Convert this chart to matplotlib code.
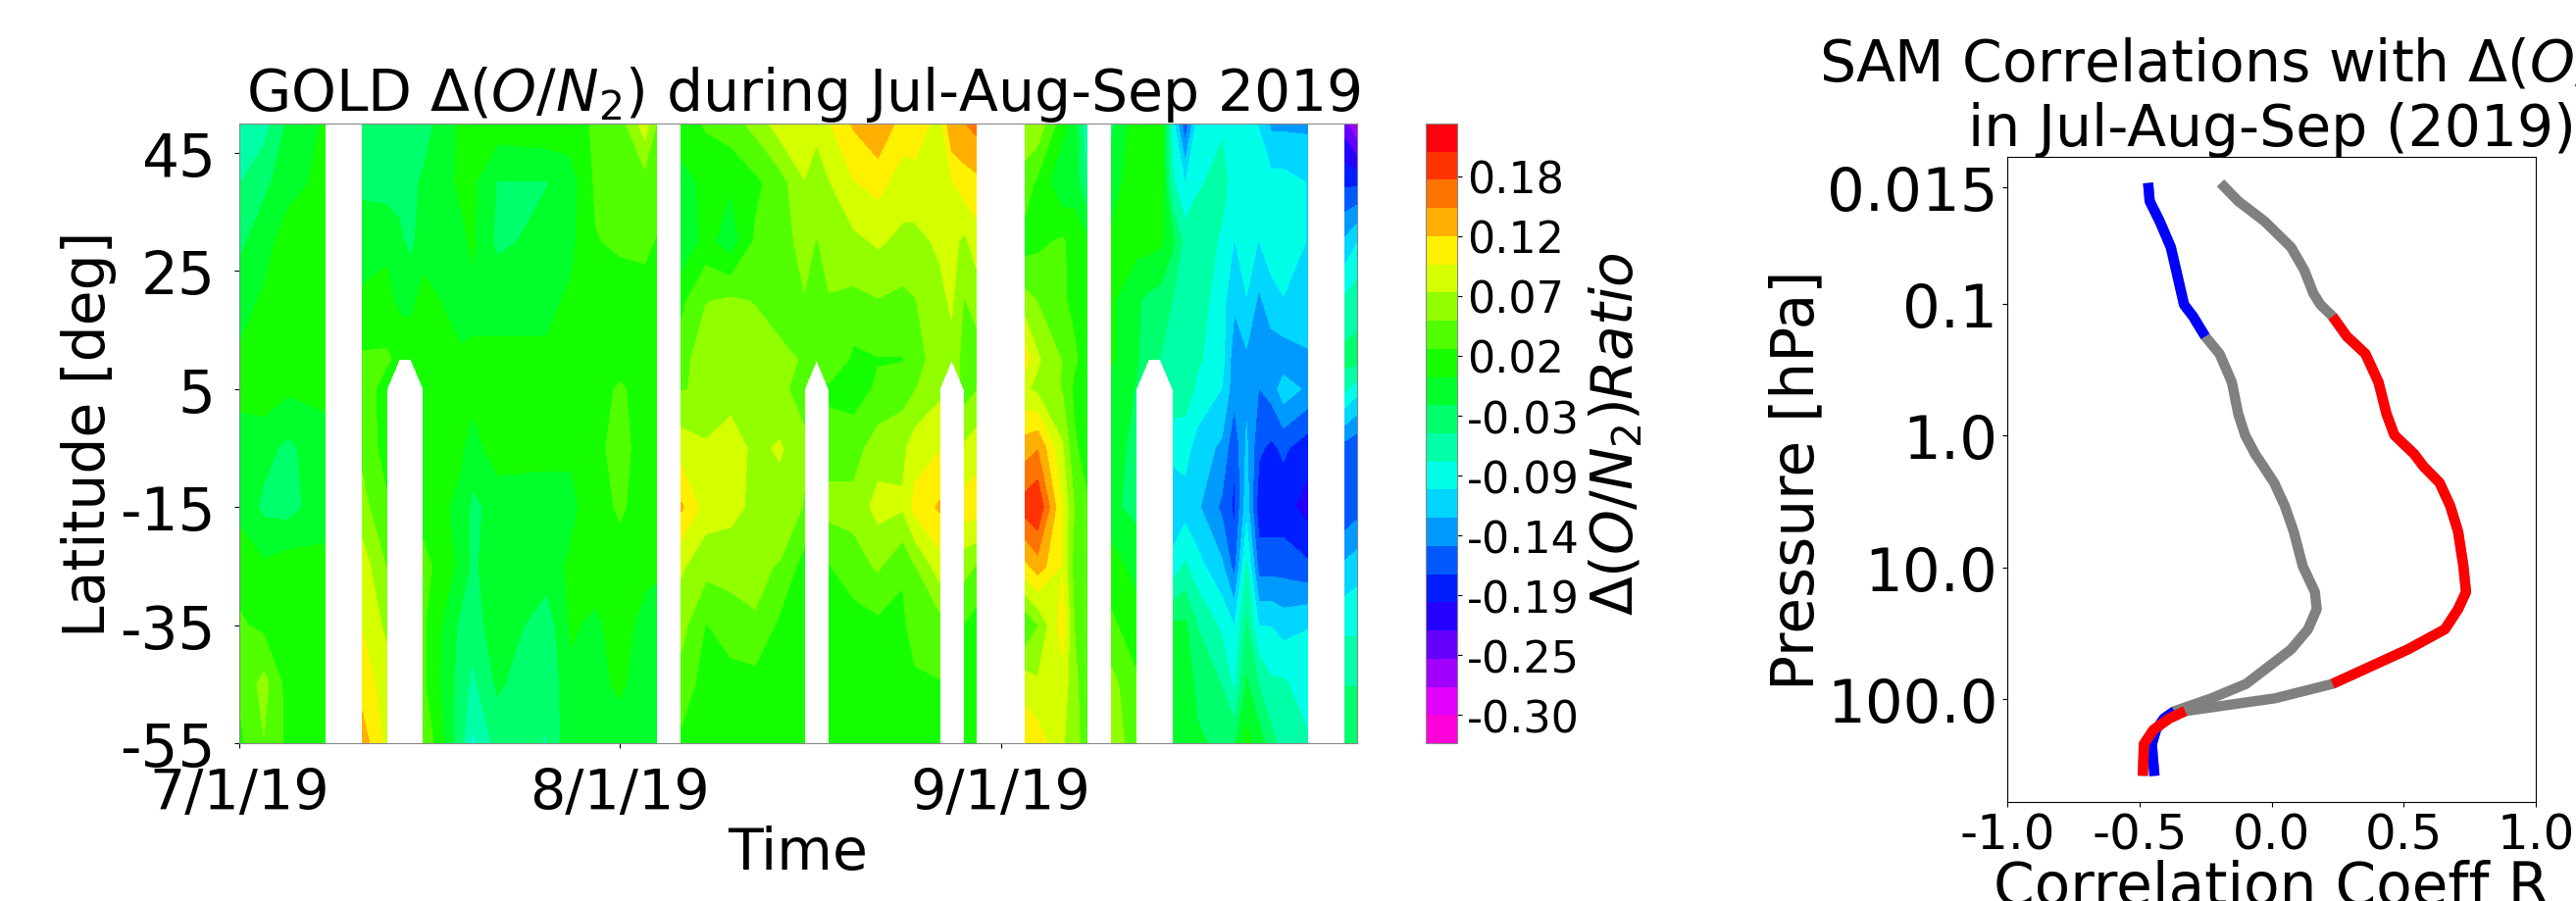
import numpy as np
import matplotlib
matplotlib.use('Agg')
import matplotlib.pyplot as plt

plt.rcParams['axes.unicode_minus'] = False

W, H = 2627, 920
nan = np.nan

# latitudes of each profile below, north to south
lats = [50, 40, 30, 20, 10, 5, -5, -15, -25, -35, -45, -55]

# days since 7/1/19 and the delta(O/N2) profile read at each of them
days = [0, 2, 4, 7, 8, 10, 12, 13, 14, 15, 18, 19, 21, 25, 27, 29, 31, 33, 34, 35,
        36, 38, 40, 42, 44, 46, 47, 48, 50, 52, 54, 55, 57, 58, 59, 60, 62,
        64, 65, 67, 68, 69, 70, 71, 73, 74, 75, 76, 77, 78, 80, 81, 82, 83, 84, 85, 87, 88, 90, 91]
profiles = [
    [-.06, -.05, -.03, -.01, .005, .005, -.005, -.005, .015, .03, .03, .02],
    [-.06, -.03, -.01, .005, .015, .015, -.015, -.03, .005, .02, .06, .05],
    [-.02, -.01, .015, .015, .005, .005, -.03, -.035, .015, .005, .015, .02],
    [.005, .01, .005, .01, .005, .005, -.005, -.005, .005, .005, .005, .01],
    [nan] * 12,
    [-.04, -.03, -.01, .005, .03, .04, .045, .06, .09, .10, .115, .14],
    [-.04, -.035, -.005, .01, .03, .015, .015, .03, .05, .07, .09, .095],
    [-.03, -.03, -.02, -.005, .02, nan, nan, nan, nan, nan, nan, nan],
    [-.03, -.03, -.03, -.005, .015, nan, nan, nan, nan, nan, nan, nan],
    [-.035, -.02, -.01, .01, .015, .015, .005, .015, .035, .03, .03, .05],
    [.005, .005, -.005, -.01, .005, .005, .005, -.005, -.005, -.03, -.035, -.04],
    [.005, .005, .005, -.005, .005, .01, -.01, -.03, -.03, -.04, -.055, -.08],
    [.015, -.025, -.03, -.005, .005, .005, .015, -.015, -.005, -.005, -.02, -.04],
    [.02, -.025, -.015, -.005, .005, .005, .005, -.005, -.01, -.04, -.045, -.05],
    [.015, -.01, -.005, .005, .01, .01, .005, -.005, .005, .005, -.005, -.005],
    [.03, .03, .025, .015, .015, .015, .02, .015, .015, -.005, -.005, -.005],
    [.04, .035, .03, .015, .015, .03, .035, .03, .015, .015, .005, -.01],
    [.09, .04, .03, .02, .015, .015, .015, .015, .01, -.01, -.01, -.01],
    [.05, .035, .025, .005, .005, .005, .01, .005, .005, -.01, -.01, -.005],
    [nan] * 12,
    [.01, -.005, -.02, .02, .04, .05, .09, .13, .08, .06, .04, .02],
    [.03, .005, .01, .05, .07, .055, .08, .09, .06, .025, .015, .005],
    [.04, .005, -.015, .055, .07, .065, .09, .085, .06, .04, .015, .005],
    [.06, .02, .03, .05, .065, .065, .07, .07, .055, .05, .015, .005],
    [.09, .04, .04, .045, .055, .055, .08, .065, .05, .02, .015, .005],
    [.10, .075, .06, .05, .05, .045, .055, .05, .015, .015, .01, .01],
    [.08, .07, .05, .05, .05, nan, nan, nan, nan, nan, nan, nan],
    [.10, .075, .06, .05, .05, .02, .04, .06, .025, .015, .01, .01],
    [.13, .10, .07, .045, .02, .015, .04, .06, .04, .015, .005, .005],
    [.15, .11, .08, .05, .025, .03, .065, .085, .055, .02, .01, .005],
    [.115, .09, .07, .045, .025, .04, .07, .08, .03, .02, .01, .005],
    [.12, .09, .07, .05, .04, .05, .09, .11, .05, .04, .02, .01],
    [.09, .09, .08, .07, .065, .07, .10, .13, .09, .04, .025, .015],
    [.15, .10, .085, .08, .07, nan, nan, nan, nan, nan, nan, nan],
    [.15, .115, .07, .05, .04, .04, .08, .115, .06, .025, .015, .005],
    [.16, .12, .09, .06, .04, .05, .09, .115, .05, .015, .005, .005],
    [nan] * 12,
    [.07, .04, .015, .06, .115, .08, .14, .19, .12, .03, .09, .12],
    [.07, .02, .02, .05, .08, .07, .15, .20, .14, .05, .08, .115],
    [.01, -.02, .03, .03, .05, .05, .08, .10, .10, .115, .09, .08],
    [-.01, -.01, .015, .02, .03, .02, .03, .05, .04, .05, .06, .06],
    [-.07, -.05, .005, .01, .015, .015, .015, .03, .03, .03, .03, .04],
    [nan] * 12,
    [-.03, -.01, .005, .005, .005, -.01, -.015, -.02, .015, .03, .06, .07],
    [.015, .015, .01, -.02, -.02, -.025, -.03, -.03, -.01, .015, .03, .035],
    [.015, .015, .01, -.03, -.04, nan, nan, nan, nan, nan, nan, nan],
    [.015, .015, .005, -.035, -.05, nan, nan, nan, nan, nan, nan, nan],
    [-.09, -.07, -.02, -.05, -.05, -.06, -.09, -.12, -.09, -.02, -.015, -.015],
    [-.17, -.10, -.06, -.05, -.06, -.06, -.09, -.11, -.07, -.02, -.01, -.015],
    [-.09, -.08, -.05, -.06, -.07, -.08, -.11, -.12, -.09, -.05, -.03, -.02],
    [-.08, -.06, -.08, -.09, -.09, -.10, -.13, -.155, -.12, -.08, -.05, -.03],
    [-.085, -.09, -.10, -.12, -.14, -.14, -.17, -.18, -.16, -.10, -.08, -.03],
    [-.09, -.08, -.09, -.10, -.13, -.13, -.12, -.11, -.07, -.045, -.02, .01],
    [-.10, -.09, -.10, -.13, -.14, -.15, -.17, -.19, -.16, -.10, -.05, -.01],
    [-.13, -.09, -.085, -.11, -.14, -.14, -.18, -.19, -.16, -.10, -.07, -.04],
    [-.13, -.09, -.09, -.10, -.14, -.11, -.17, -.19, -.16, -.11, -.07, -.06],
    [-.13, -.10, -.10, -.10, -.13, -.13, -.19, -.21, -.17, -.10, -.09, -.07],
    [nan] * 12,
    [-.24, -.18, -.12, -.07, -.04, -.07, -.16, -.17, -.12, -.08, -.05, -.03],
    [-.28, -.18, -.10, -.06, -.04, -.09, -.17, -.16, -.11, -.08, -.05, -.03],
]
date_ticks = [0, 31, 62]
date_labels = ['7/1/19', '8/1/19', '9/1/19']
lat_ticks = [45, 25, 5, -15, -35, -55]
cbar_ticks = [0.18, 0.1267, 0.0733, 0.02, -0.0333, -0.0867, -0.14, -0.1933, -0.2467, -0.30]
cbar_labels = ['0.18', '0.12', '0.07', '0.02', '-0.03', '-0.09', '-0.14', '-0.19', '-0.25', '-0.30']

# SAM correlation profiles
pressure = [0.012, 0.0165, 0.0235, 0.037, 0.0552, 0.0826, 0.101, 0.124, 0.176, 0.238,
            0.393, 0.682, 0.99, 1.38, 1.72, 2.28, 3.41, 5.36, 9.79, 15.4,
            20.8, 29.6, 42.1, 76.9, 99.0, 124.0, 141.0, 172.0, 221.0, 385.0]
corr_blue = [-.467, -.461, -.423, -.381, -.361, -.341, -.331, -.297, -.251, -.197,
             -.150, -.126, -.100, -.062, -.030, .010, .050, .084, .118, .164,
             .171, .138, .074, -.096, -.227, -.367, -.407, -.437, -.453, -.443]
corr_red = [-.193, -.126, -.026, .074, .124, .158, .185, .231, .285, .355,
            .405, .435, .465, .540, .576, .636, .676, .706, .726, .736,
            .706, .656, .516, .231, .014, -.327, -.387, -.447, -.483, -.487]
sig_level = 0.23
p_ticks = [0.0129, 0.1, 1.0, 10.0, 100.0]
p_labels = ['0.015', '0.1', '1.0', '10.0', '100.0']
r_ticks = [-1.0, -0.5, 0.0, 0.5, 1.0]


def px_axes(fig, x0, y0, x1, y1):
    return fig.add_axes([x0 / W, 1 - y1 / H, (x1 - x0) / W, (y1 - y0) / H])


fig = plt.figure(figsize=(W / 100, H / 100), dpi=100)

ax = px_axes(fig, 244, 127, 1384, 759)
levels = np.linspace(-0.325, 0.227, 23)
grid = np.ma.masked_invalid(np.array(profiles).T)
cf = ax.contourf(days, lats, grid, levels=levels, cmap='gist_rainbow_r', extend='neither')
ax.set_xlim(0, 91)
ax.set_ylim(-55, 50)
ax.set_xticks(date_ticks)
ax.set_xticklabels(date_labels, fontsize=41)
ax.set_yticks(lat_ticks)
ax.tick_params(axis='y', labelsize=43, pad=14)
ax.tick_params(axis='x', pad=14)
ax.set_xlabel('Time', fontsize=42, labelpad=3)
ax.set_ylabel('Latitude [deg]', fontsize=42, labelpad=2)
ax.set_title(r'GOLD $\Delta(O/N_2)$ during Jul-Aug-Sep 2019', fontsize=42, pad=1, x=0.505)
for s in ax.spines.values():
    s.set_color('#888888')

cax = px_axes(fig, 1454, 127, 1486, 759)
cb = fig.colorbar(cf, cax=cax, ticks=cbar_ticks)
cb.ax.set_yticklabels(cbar_labels, fontsize=32)
cb.set_label(r'$\Delta(O/N_2) Ratio$', fontsize=42, labelpad=6)
cb.outline.set_edgecolor('#888888')

ax2 = px_axes(fig, 2047, 161, 2586, 819)
p = np.array(pressure)
for corr, col in [(corr_blue, 'blue'), (corr_red, 'red')]:
    r = np.array(corr)
    ax2.plot(r, p, color='gray', lw=7.5, solid_capstyle='butt')
    ax2.plot(r, np.ma.masked_where(np.abs(r) < sig_level, p), color=col, lw=7.5,
             solid_capstyle='butt')
ax2.set_yscale('log')
ax2.set_xlim(-1, 1)
ax2.set_ylim(608, 0.0076)
ax2.set_xticks(r_ticks)
ax2.set_xticklabels(['-1.0', '-0.5', '0.0', '0.5', '1.0'], fontsize=36)
ax2.set_yticks(p_ticks)
ax2.set_yticklabels(p_labels, fontsize=44)
ax2.tick_params(axis='y', pad=3.5)
ax2.minorticks_off()
ax2.set_xlabel('Correlation Coeff R', fontsize=43, labelpad=0)
ax2.set_ylabel('Pressure [hPa]', fontsize=43, labelpad=0)
ax2.set_title('SAM Correlations with ' + r'$\Delta(O/N_2)$' + '   \nin Jul-Aug-Sep (2019)',
              fontsize=42, pad=4)

fig.savefig('out.png', dpi=100)
